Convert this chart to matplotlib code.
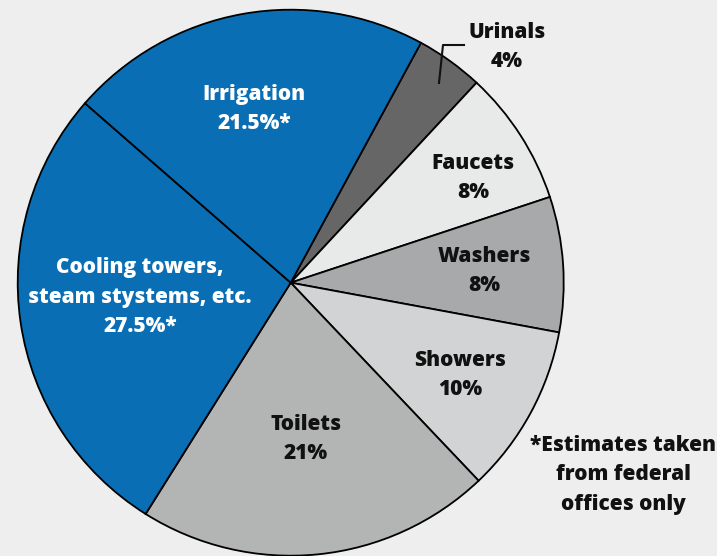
import matplotlib
matplotlib.use("Agg")
import matplotlib.pyplot as plt

labels = ["Urinals", "Faucets", "Washers", "Showers", "Toilets",
          "Cooling towers,\nsteam stystems, etc.", "Irrigation"]
pct_labels = ["4%", "8%", "8%", "10%", "21%", "27.5%*", "21.5%*"]
values = [4, 8, 8, 10, 21, 27.5, 21.5]
colors = ["#666666", "#e8e9e9", "#a8a9ab", "#d2d3d4", "#b3b4b4", "#0a6eb4", "#0a6eb4"]
text_colors = ["#111111"] * 5 + ["white", "white"]
footnote = "*Estimates taken\nfrom federal\noffices only"

W, H = 717, 556
fig = plt.figure(figsize=(W / 100, H / 100), dpi=100)
fig.patch.set_facecolor("#eeeeee")
ax = fig.add_axes([0, 0, 1, 1])

cx, cy, r = 290.7, H - 282.7, 273
ax.pie(values, colors=colors, startangle=61.5, counterclock=False,
       center=(cx, cy), radius=r, frame=True,
       wedgeprops=dict(edgecolor="black", linewidth=1.3))
ax.set_xlim(0, W)
ax.set_ylim(0, H)
ax.set_aspect("equal")
ax.axis("off")

font = dict(family=["Open Sans", "DejaVu Sans"], weight=800, fontsize=15,
            ha="center", va="center", linespacing=1.52)
pos = [(507, 47), (473, 178), (484, 271), (460, 375), (306, 439), (140, 297), (254, 109)]
for lab, p, (x, y), c in zip(labels, pct_labels, pos, text_colors):
    ax.text(x, H - y, lab + "\n" + p, color=c, **font)

ax.text(623, H - 475, footnote, color="#111111", **font)

ax.plot([439, 443, 464], [H - 83, H - 45, H - 45], color="#111111", lw=1.5)

fig.savefig("out.png", dpi=100, facecolor=fig.get_facecolor())
